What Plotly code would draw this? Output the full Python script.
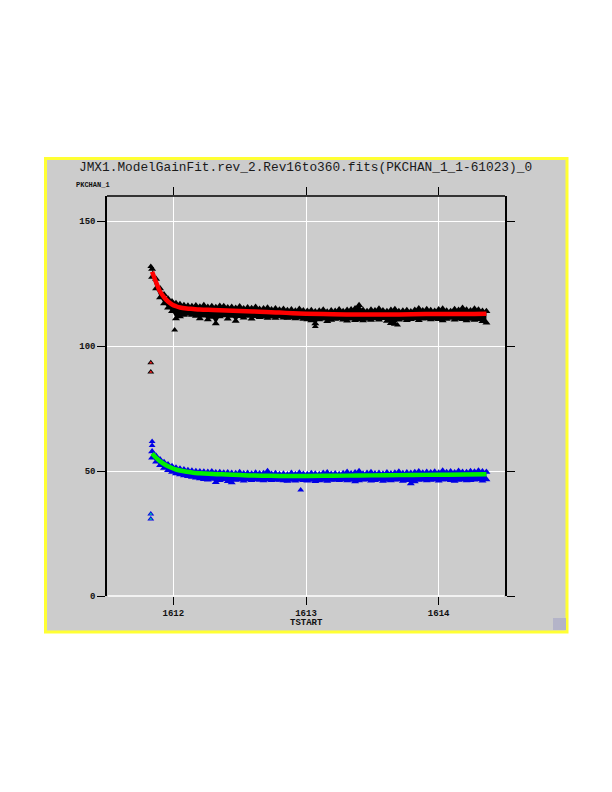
import plotly.graph_objects as go

# ---------------- data ----------------
x_time = [
    1611.84, 1611.87, 1611.90, 1611.93, 1611.96, 1611.99, 1612.02, 1612.05, 1612.08, 1612.11,
    1612.14, 1612.17, 1612.20, 1612.23, 1612.26, 1612.29, 1612.32, 1612.35, 1612.38, 1612.41,
    1612.44, 1612.47, 1612.50, 1612.53, 1612.56, 1612.59, 1612.62, 1612.65, 1612.68, 1612.71,
    1612.74, 1612.77, 1612.80, 1612.83, 1612.86, 1612.89, 1612.92, 1612.95, 1612.98, 1613.01,
    1613.04, 1613.07, 1613.10, 1613.13, 1613.16, 1613.19, 1613.22, 1613.25, 1613.28, 1613.31,
    1613.34, 1613.37, 1613.40, 1613.43, 1613.46, 1613.49, 1613.52, 1613.55, 1613.58, 1613.61,
    1613.64, 1613.67, 1613.70, 1613.73, 1613.76, 1613.79, 1613.82, 1613.85, 1613.88, 1613.91,
    1613.94, 1613.97, 1614.00, 1614.03, 1614.06, 1614.09, 1614.12, 1614.15, 1614.18, 1614.21,
    1614.24, 1614.27, 1614.30, 1614.33, 1614.36,
]

pk1_hi = [
    130.8, 126.8, 123.0, 120.6, 118.9, 117.8, 117.1, 116.7, 116.3, 116.1,
    115.9, 116.2, 115.7, 116.3, 115.6, 115.9, 115.5, 116.0, 115.9, 115.4,
    115.6, 115.2, 115.8, 115.0, 115.4, 115.1, 115.6, 114.8, 115.0, 115.3,
    114.6, 115.0, 114.5, 114.8, 114.3, 114.6, 114.1, 114.8, 114.2, 114.0,
    114.3, 113.8, 114.1, 114.5, 113.7, 114.2, 114.0, 114.6, 113.9, 114.4,
    114.6, 115.0, 116.3, 114.4, 113.9, 114.5, 114.2, 114.9, 114.2, 113.9,
    114.4, 114.7, 113.9, 114.1, 114.3, 113.8, 114.4, 115.0, 114.2, 114.7,
    114.3, 114.0, 114.6, 114.9, 114.1, 113.9, 114.7, 114.4, 115.2, 114.5,
    114.2, 114.9, 114.5, 114.0, 113.9,
]
pk1_lo = [
    127.6, 123.0, 119.4, 117.0, 115.3, 113.9, 111.0, 111.8, 112.4, 112.8,
    112.4, 112.0, 111.0, 112.1, 110.6, 111.6, 109.0, 111.8, 112.2, 110.9,
    112.0, 110.0, 111.9, 111.3, 112.0, 110.9, 111.9, 111.5, 111.7, 111.2,
    111.7, 111.2, 111.8, 111.3, 111.2, 111.4, 111.0, 111.3, 110.8, 110.6,
    110.2, 109.0, 110.6, 110.9, 109.9, 110.4, 110.8, 111.0, 110.5, 110.1,
    110.9, 110.3, 110.7, 110.2, 110.8, 110.4, 111.0, 110.5, 111.1, 110.0,
    109.1, 108.8, 110.5, 110.9, 110.3, 110.7, 111.0, 110.3, 110.9, 111.1,
    110.6, 110.9, 110.7, 110.2, 110.8, 111.2, 110.5, 110.9, 110.7, 110.2,
    110.8, 110.4, 110.7, 109.9, 109.3,
]
pk2_hi = [
    57.8, 56.0, 54.6, 53.5, 52.6, 51.9, 51.3, 50.9, 50.6, 50.3,
    50.1, 49.9, 49.8, 49.7, 49.6, 49.8, 49.4, 49.5, 49.3, 49.4,
    49.2, 49.1, 49.5, 49.0, 49.2, 48.9, 49.3, 49.0, 49.1, 49.9,
    48.8, 49.1, 48.7, 48.9, 48.6, 49.2, 48.7, 49.3, 48.8, 48.7,
    49.1, 48.9, 48.7, 49.2, 49.4, 48.8, 49.0, 48.7, 49.1, 49.6,
    49.0, 49.4, 49.9, 48.9, 49.2, 49.5, 49.0, 49.2, 48.9, 49.4,
    49.0, 49.3, 49.7, 49.1, 49.4, 49.2, 49.5, 49.8, 49.3, 49.6,
    49.4, 49.7, 49.3, 50.1, 49.5, 49.8, 49.4, 50.0, 49.6, 49.5,
    49.9, 49.7, 50.1, 49.8, 49.6,
]
pk2_lo = [
    55.3, 53.7, 52.3, 51.2, 50.3, 49.6, 49.0, 48.6, 48.2, 47.9,
    47.6, 47.3, 47.0, 46.7, 46.5, 46.8, 45.5, 46.3, 46.7, 45.9,
    45.4, 46.4, 46.6, 46.1, 46.6, 46.3, 46.7, 46.4, 46.2, 46.6,
    46.3, 46.5, 46.4, 46.2, 46.0, 46.4, 46.1, 46.5, 46.3, 46.1,
    46.4, 45.9, 46.2, 46.4, 46.0, 46.4, 46.5, 46.3, 46.6, 46.2,
    46.4, 45.8, 46.2, 46.5, 46.6, 46.1, 46.3, 46.6, 46.0, 46.4,
    46.2, 46.5, 46.6, 46.0, 46.3, 45.0, 45.8, 46.4, 46.6, 46.2,
    46.4, 46.6, 46.1, 46.5, 46.7, 46.3, 46.0, 46.4, 46.6, 46.2,
    46.3, 46.5, 46.7, 46.1, 46.6,
]

# isolated points
pk1_extra_x = [1611.83, 1612.01, 1613.07, 1613.69]
pk1_extra_y = [131.8, 106.4, 107.8, 108.4]
pk2_extra_x = [1611.84, 1611.84, 1612.96]
pk2_extra_y = [61.8, 60.2, 42.4]
early1_x = [1611.83, 1611.83]
early1_y = [93.3, 89.6]
early2_x = [1611.83, 1611.83]
early2_y = [32.8, 30.8]

# model fits
fit_x = [1611.84, 1611.87, 1611.90, 1611.93, 1611.96, 1611.99, 1612.02, 1612.05,
         1612.10, 1612.15, 1612.20, 1612.30, 1612.40, 1612.50, 1612.60, 1612.70,
         1612.80, 1612.90, 1613.00, 1613.20, 1613.40, 1613.60, 1613.80, 1614.00,
         1614.20, 1614.36]
fit1_y = [129.7, 125.5, 121.8, 119.5, 117.8, 116.6, 115.9, 115.4,
          115.0, 114.8, 114.6, 114.4, 114.2, 114.0, 113.8, 113.6,
          113.4, 113.1, 112.9, 112.7, 112.6, 112.6, 112.7, 112.8,
          112.8, 112.9]
fit2_y = [57.0, 55.3, 53.9, 52.8, 51.9, 51.2, 50.6, 50.2,
          49.7, 49.3, 49.1, 48.8, 48.6, 48.4, 48.2, 48.1,
          48.0, 48.0, 48.0, 48.1, 48.2, 48.3, 48.4, 48.5,
          48.6, 48.7]

x_ticks = [1612, 1613, 1614]
x_tick_text = ["1612", "1613", "1614"]
y_ticks = [0, 50, 100, 150]
y_tick_text = ["0", "50", "100", "150"]

title_text = "JMX1.ModelGainFit.rev_2.Rev16to360.fits(PKCHAN_1_1-61023)_0"

# ---------------- figure ----------------
# the page body adds an 8px offset; plot area target: x 107..505, y 196..596
OFF = 8
L, T, PW, PH = 107 - OFF, 196 - OFF, 398, 400
W, H = 612 - OFF, 792 - OFF


def px(xp):
    return (xp - 107) / PW


def py(yp):
    return (596 - yp) / PH


MONO = "Liberation Mono, DejaVu Sans Mono, monospace"
BLACK = "#000000"
BLUE = "#0000e6"
RED = "#ff0000"
GREEN = "#00f000"

fig = go.Figure()


def band(lo, hi, color):
    fig.add_trace(go.Scatter(x=x_time, y=lo, mode="lines+markers",
                             line=dict(width=0, color=color),
                             marker=dict(color=color, symbol="triangle-up", size=7),
                             hoverinfo="skip", showlegend=False))
    fig.add_trace(go.Scatter(x=x_time, y=hi, mode="lines+markers",
                             line=dict(width=0, color=color),
                             fill="tonexty", fillcolor=color,
                             marker=dict(color=color, symbol="triangle-up", size=7),
                             hoverinfo="skip", showlegend=False))


def pts(xs, ys, color, size=6):
    fig.add_trace(go.Scatter(x=xs, y=ys, mode="markers",
                             marker=dict(color=color, symbol="triangle-up", size=size),
                             hoverinfo="skip", showlegend=False))


band(pk1_lo, pk1_hi, BLACK)
pts(pk1_extra_x, pk1_extra_y, BLACK)
pts(early1_x, early1_y, BLACK)
band(pk2_lo, pk2_hi, BLUE)
pts(pk2_extra_x, pk2_extra_y, BLUE)
pts(early2_x, early2_y, BLUE)

fig.add_trace(go.Scatter(x=fit_x, y=fit1_y, mode="lines",
                         line=dict(color=RED, width=4.5, shape="spline"),
                         hoverinfo="skip", showlegend=False))
fig.add_trace(go.Scatter(x=fit_x, y=fit2_y, mode="lines",
                         line=dict(color=GREEN, width=4.5, shape="spline"),
                         hoverinfo="skip", showlegend=False))
pts(early1_x, early1_y, "#ff2020", size=3)
pts(early2_x, early2_y, "#00c8a0", size=3)

# grey panel with yellow frame
fig.add_shape(type="rect", xref="paper", yref="paper",
              x0=px(45.5), x1=px(567), y0=py(632), y1=py(158.5),
              fillcolor="#cccccc", line=dict(color="#ffff33", width=3), layer="below")
# small corner widget
fig.add_shape(type="rect", xref="paper", yref="paper",
              x0=px(553), x1=px(566), y0=py(630), y1=py(618),
              fillcolor="#b4b4c8", line=dict(width=0), layer="above")
# top frame line and white baseline
fig.add_shape(type="line", xref="paper", yref="paper",
              x0=0, x1=1, y0=1, y1=1, line=dict(color="black", width=1.5))
fig.add_shape(type="line", xref="paper", yref="paper",
              x0=0.002, x1=0.998, y0=0, y1=0, line=dict(color="white", width=1.5),
              layer="below")

fig.add_annotation(text=title_text, xref="paper", yref="paper",
                   x=px(305), y=py(167), showarrow=False,
                   font=dict(family=MONO, size=12.8, color="#1a1a1a"),
                   xanchor="center", yanchor="middle")
fig.add_annotation(text="<b>PKCHAN_1</b>", xref="paper", yref="paper",
                   x=px(74), y=py(185), showarrow=False,
                   font=dict(family=MONO, size=7, color="#111111"),
                   xanchor="left", yanchor="middle")
fig.add_annotation(text="<b>TSTART</b>", xref="paper", yref="paper",
                   x=px(306), y=py(622.5), showarrow=False,
                   font=dict(family=MONO, size=9, color="#111111"),
                   xanchor="center", yanchor="middle")

fig.update_layout(
    width=W, height=H,
    margin=dict(l=L, r=W - L - PW, t=T, b=H - T - PH),
    paper_bgcolor="white",
    plot_bgcolor="#cccccc",
    showlegend=False,
    xaxis=dict(range=[1611.5, 1614.5], tickvals=x_ticks, ticktext=x_tick_text,
               showgrid=True, gridcolor="white", gridwidth=1,
               zeroline=False, showline=False,
               ticks="outside", ticklen=8, tickcolor="black", tickwidth=1,
               mirror="ticks", ticklabelstandoff=0,
               tickfont=dict(family=MONO, size=9, color="#111111", weight="bold")),
    yaxis=dict(range=[0, 160], tickvals=y_ticks, ticktext=y_tick_text,
               showgrid=True, gridcolor="white", gridwidth=1,
               zeroline=False, showline=True, linecolor="black", linewidth=1.5,
               ticks="outside", ticklen=8, tickcolor="black", tickwidth=1,
               mirror="ticks",
               tickfont=dict(family=MONO, size=9, color="#111111", weight="bold")),
)

fig.write_html("out.html")
